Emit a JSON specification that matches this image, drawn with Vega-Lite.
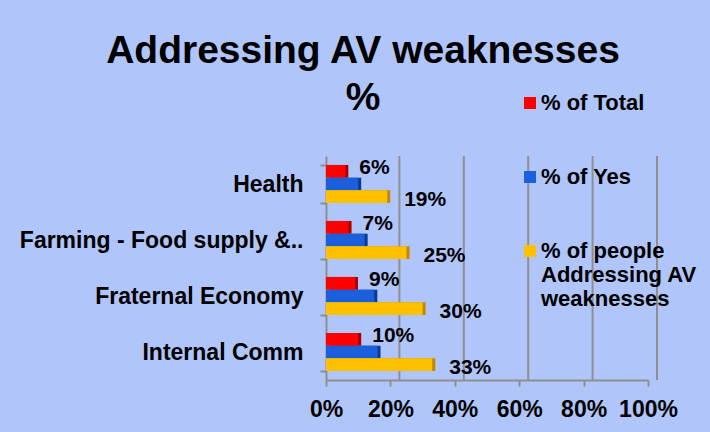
{
  "$schema": "https://vega.github.io/schema/vega-lite/v6.json",
  "autosize": "none",
  "width": 322,
  "height": 224,
  "padding": {"left": 326, "top": 156, "right": 62, "bottom": 52},
  "background": "#b0c5fa",
  "config": {
    "view": {"stroke": null},
    "font": "Liberation Sans"
  },
  "title": {
    "text": ["Addressing AV weaknesses", "%"],
    "fontSize": 39,
    "fontWeight": "bold",
    "font": "Liberation Sans",
    "color": "#000000",
    "lineHeight": 47,
    "anchor": "middle",
    "frame": "group",
    "dx": -124,
    "offset": -26
  },
  "datasets": {
    "bars": [
      {"category": "Health", "series": "% of Total", "value": 0.06},
      {"category": "Health", "series": "% of Yes", "value": 0.10},
      {"category": "Health", "series": "% of people Addressing AV weaknesses", "value": 0.19},
      {"category": "Farming - Food supply &..", "series": "% of Total", "value": 0.07},
      {"category": "Farming - Food supply &..", "series": "% of Yes", "value": 0.12},
      {"category": "Farming - Food supply &..", "series": "% of people Addressing AV weaknesses", "value": 0.25},
      {"category": "Fraternal Economy", "series": "% of Total", "value": 0.09},
      {"category": "Fraternal Economy", "series": "% of Yes", "value": 0.15},
      {"category": "Fraternal Economy", "series": "% of people Addressing AV weaknesses", "value": 0.30},
      {"category": "Internal Comm", "series": "% of Total", "value": 0.10},
      {"category": "Internal Comm", "series": "% of Yes", "value": 0.16},
      {"category": "Internal Comm", "series": "% of people Addressing AV weaknesses", "value": 0.33}
    ],
    "grid": [{"g": 0.2}, {"g": 0.4}, {"g": 0.6}, {"g": 0.8}, {"g": 1.0}]
  },
  "resolve": {"scale": {"color": "independent", "fill": "independent"}, "legend": {"color": "independent", "fill": "independent"}},
  "layer": [
    {
      "data": {"name": "grid"},
      "mark": {"type": "rule", "color": "#8f8f8f", "strokeWidth": 2, "xOffset": 9},
      "encoding": {
        "x": {"field": "g", "type": "quantitative", "scale": {"domain": [0, 1]}}
      }
    },
    {
      "data": {"name": "bars"},
      "mark": {"type": "bar", "xOffset": 3},
      "encoding": {
        "y": {"field": "category", "type": "nominal", "sort": ["Health", "Farming - Food supply &..", "Fraternal Economy", "Internal Comm"], "scale": {"paddingInner": 0.32, "paddingOuter": 0.16}, "axis": {"title": null, "labelFontSize": 23, "labelFontWeight": "bold", "labelColor": "#000000", "labelPadding": 17, "tickSize": 6, "tickBand": "extent", "tickColor": "#8f8f8f", "tickWidth": 2, "domainColor": "#8f8f8f", "domainWidth": 2, "labelLimit": 400}},
        "yOffset": {"field": "series", "type": "nominal", "sort": ["% of Total", "% of Yes", "% of people Addressing AV weaknesses"]},
        "x": {"field": "value", "type": "quantitative", "scale": {"domain": [0, 1]}, "axis": {"title": null, "values": [0, 0.2, 0.4, 0.6, 0.8, 1.0], "format": ".0%", "labelOverlap": false, "labelFlush": false, "labelFontSize": 23, "labelFontWeight": "bold", "labelColor": "#000000", "labelPadding": 12, "tickSize": 6, "tickColor": "#8f8f8f", "tickWidth": 2, "domainColor": "#8f8f8f", "domainWidth": 2, "grid": false}},
        "color": {"field": "series", "type": "nominal", "legend": null, "scale": {"domain": ["% of Total", "% of Yes", "% of people Addressing AV weaknesses"], "range": ["#a80000", "#0a3a90", "#c08800"]}}
      }
    },
    {
      "data": {"name": "bars"},
      "mark": {"type": "bar"},
      "encoding": {
        "y": {"field": "category", "type": "nominal", "sort": ["Health", "Farming - Food supply &..", "Fraternal Economy", "Internal Comm"]},
        "yOffset": {"field": "series", "type": "nominal", "sort": ["% of Total", "% of Yes", "% of people Addressing AV weaknesses"]},
        "x": {"field": "value", "type": "quantitative"},
        "fill": {"field": "series", "type": "nominal", "sort": ["% of Total", "% of Yes", "% of people Addressing AV weaknesses"], "scale": {"domain": ["% of Total", "% of Yes", "% of people Addressing AV weaknesses"], "range": ["#ff0000", "#1c5fdc", "#ffc000"]}, "legend": {"title": null, "orient": "none", "legendX": 193, "legendY": -64, "padding": 0, "symbolType": "square", "symbolSize": 144, "symbolStrokeWidth": 0, "labelFontSize": 22, "labelFontWeight": "bold", "labelColor": "#000000", "labelLimit": 300, "rowPadding": 52, "labelOffset": 0, "labelExpr": "datum.label == '% of people Addressing AV weaknesses' ? ['% of people', 'Addressing  AV', 'weaknesses'] : datum.label"}}
      }
    },
    {
      "data": {"name": "bars"},
      "transform": [{"filter": "datum.series == '% of Total'"}],
      "mark": {"type": "text", "align": "left", "dx": 14, "dy": -3, "fontSize": 21, "fontWeight": "bold", "color": "#000000"},
      "encoding": {
        "y": {"field": "category", "type": "nominal", "sort": ["Health", "Farming - Food supply &..", "Fraternal Economy", "Internal Comm"]},
        "yOffset": {"field": "series", "type": "nominal", "sort": ["% of Total", "% of Yes", "% of people Addressing AV weaknesses"]},
        "x": {"field": "value", "type": "quantitative"},
        "text": {"field": "value", "type": "quantitative", "format": ".0%"}
      }
    },
    {
      "data": {"name": "bars"},
      "transform": [{"filter": "datum.series == '% of people Addressing AV weaknesses'"}],
      "mark": {"type": "text", "align": "left", "dx": 17, "dy": 3, "fontSize": 21, "fontWeight": "bold", "color": "#000000"},
      "encoding": {
        "y": {"field": "category", "type": "nominal", "sort": ["Health", "Farming - Food supply &..", "Fraternal Economy", "Internal Comm"]},
        "yOffset": {"field": "series", "type": "nominal", "sort": ["% of Total", "% of Yes", "% of people Addressing AV weaknesses"]},
        "x": {"field": "value", "type": "quantitative"},
        "text": {"field": "value", "type": "quantitative", "format": ".0%"}
      }
    }
  ]
}
